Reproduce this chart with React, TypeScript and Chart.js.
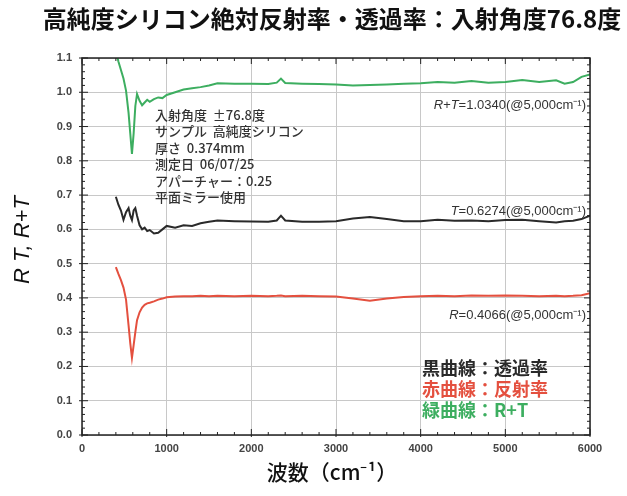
import React, { useEffect, useRef } from "react";
import { Chart, registerables } from "chart.js";

Chart.register(...registerables);

const wavenumbers = [400, 430, 460, 490, 520, 550, 570, 590, 610, 630, 650, 680, 710, 740, 770, 800, 850, 900, 950, 1000, 1100, 1200, 1300, 1400, 1500, 1600, 1800, 2000, 2200, 2300, 2350, 2400, 2600, 2800, 3000, 3200, 3400, 3600, 3800, 4000, 4200, 4400, 4600, 4800, 5000, 5200, 5400, 5600, 5700, 5800, 5900, 6000];

const transmittance = [0.695, 0.672, 0.655, 0.628, 0.650, 0.662, 0.640, 0.627, 0.655, 0.662, 0.640, 0.612, 0.600, 0.605, 0.595, 0.598, 0.588, 0.590, 0.600, 0.610, 0.605, 0.612, 0.610, 0.618, 0.622, 0.626, 0.624, 0.623, 0.622, 0.626, 0.640, 0.626, 0.622, 0.622, 0.624, 0.632, 0.636, 0.630, 0.624, 0.624, 0.628, 0.625, 0.626, 0.624, 0.627, 0.628, 0.624, 0.620, 0.624, 0.625, 0.630, 0.640];

const reflectance = [0.490, 0.470, 0.452, 0.430, 0.395, 0.320, 0.268, 0.225, 0.262, 0.300, 0.335, 0.358, 0.372, 0.380, 0.384, 0.386, 0.390, 0.395, 0.398, 0.402, 0.404, 0.405, 0.405, 0.406, 0.405, 0.406, 0.405, 0.406, 0.405, 0.406, 0.407, 0.405, 0.406, 0.405, 0.404, 0.398, 0.392, 0.398, 0.403, 0.405, 0.406, 0.405, 0.407, 0.406, 0.407, 0.406, 0.405, 0.406, 0.405, 0.406, 0.408, 0.414];

const sumRT = [1.12, 1.09, 1.065, 1.04, 1.005, 0.94, 0.88, 0.82, 0.88, 0.96, 0.995, 0.975, 0.962, 0.970, 0.978, 0.972, 0.980, 0.985, 0.983, 0.992, 1.000, 1.008, 1.012, 1.015, 1.020, 1.026, 1.025, 1.025, 1.024, 1.028, 1.040, 1.027, 1.025, 1.024, 1.023, 1.020, 1.021, 1.023, 1.025, 1.026, 1.030, 1.028, 1.033, 1.028, 1.030, 1.036, 1.030, 1.035, 1.025, 1.030, 1.045, 1.052];

const xTicks = [0, 1000, 2000, 3000, 4000, 5000, 6000];
const yTicks = [0, 0.1, 0.2, 0.3, 0.4, 0.5, 0.6, 0.7, 0.8, 0.9, 1.0, 1.1];

const titleText = "高純度シリコン絶対反射率・透過率：入射角度76.8度";
const infoLines = ["入射角度  ±76.8度", "サンプル  高純度シリコン", "厚さ  0.374mm", "測定日  06/07/25", "アパーチャー：0.25", "平面ミラー使用"];
const legendLines = [
  { text: "黒曲線：透過率", color: "#2a2a2a" },
  { text: "赤曲線：反射率", color: "#e4503f" },
  { text: "緑曲線：R+T", color: "#3dae60" },
];
const curveLabels = [
  { name: "R+T", rest: "=1.0340(@5,000cm⁻¹)", y: 0.962 },
  { name: "T", rest: "=0.6274(@5,000cm⁻¹)", y: 0.653 },
  { name: "R", rest: "=0.4066(@5,000cm⁻¹)", y: 0.35 },
];

const JP = '"Noto Sans CJK JP", sans-serif';
const LAT = '"Liberation Sans", Arial, sans-serif';

const decor = {
  id: "decor",
  beforeDraw(chart: any) {
    const ctx = chart.ctx;
    ctx.save();
    ctx.fillStyle = "#ffffff";
    ctx.fillRect(0, 0, chart.width, chart.height);
    ctx.restore();
  },
  afterDraw(chart: any) {
    const ctx = chart.ctx;
    const { left, right, top, bottom } = chart.chartArea;
    const xs = chart.scales.x;
    const ys = chart.scales.y;
    ctx.save();
    // frame
    ctx.strokeStyle = "#222";
    ctx.lineWidth = 1.5;
    ctx.strokeRect(left, top, right - left, bottom - top);
    // ticks
    ctx.lineWidth = 1;
    for (let v = 0; v <= 6000; v += 200) {
      const px = xs.getPixelForValue(v);
      const len = v % 1000 === 0 ? 6 : 3;
      ctx.beginPath();
      ctx.moveTo(px, bottom + (len === 6 ? 2 : 0));
      ctx.lineTo(px, bottom - len);
      ctx.moveTo(px, top);
      ctx.lineTo(px, top + len);
      ctx.stroke();
    }
    for (let i = 0; i <= 55; i++) {
      const v = i * 0.02;
      const py = ys.getPixelForValue(v);
      const major = i % 5 === 0;
      const len = major ? 6 : 3;
      ctx.beginPath();
      ctx.moveTo(left - (major ? 3 : 0), py);
      ctx.lineTo(left + len, py);
      ctx.moveTo(right, py);
      ctx.lineTo(right - len, py);
      ctx.stroke();
    }
    // title
    ctx.fillStyle = "#111";
    ctx.textBaseline = "middle";
    ctx.textAlign = "center";
    ctx.font = `bold 24px ${JP}`;
    ctx.fillText(titleText, 332, 19);
    // x title
    ctx.font = `500 21px ${JP}`;
    ctx.fillText("波数（cm⁻¹）", 332, 472);
    // y title
    ctx.save();
    ctx.translate(23, 240);
    ctx.rotate(-Math.PI / 2);
    ctx.font = `italic 22px ${LAT}`;
    ctx.fillText("R T, R+T", 0, 0);
    ctx.restore();
    // info block
    ctx.textAlign = "left";
    ctx.font = `500 13px ${JP}`;
    ctx.fillStyle = "#333";
    infoLines.forEach((t, i) => ctx.fillText(t, 155, 115 + i * 16.5));
    // curve labels
    curveLabels.forEach((c) => {
      const py = ys.getPixelForValue(c.y);
      ctx.font = `13px ${LAT}`;
      const wRest = ctx.measureText(c.rest).width;
      ctx.font = `italic 13px ${LAT}`;
      const wName = ctx.measureText(c.name).width;
      const x0 = 586 - wRest - wName;
      ctx.fillStyle = "#333";
      ctx.fillText(c.name, x0, py);
      ctx.font = `13px ${LAT}`;
      ctx.fillText(c.rest, x0 + wName, py);
    });
    // legend
    ctx.font = `bold 18px ${JP}`;
    legendLines.forEach((l, i) => {
      ctx.fillStyle = l.color;
      ctx.fillText(l.text, 422, 368 + i * 21);
    });
    ctx.restore();
  },
};

export default function App() {
  const ref = useRef<HTMLCanvasElement | null>(null);
  useEffect(() => {
    document.body.style.margin = "0";
    const mk = (vals: number[]) => wavenumbers.map((x, i) => ({ x, y: vals[i] }));
    const chart = new Chart(ref.current as HTMLCanvasElement, {
      type: "line",
      data: {
        datasets: [
          { label: "R+T", data: mk(sumRT), borderColor: "#3dae60", borderWidth: 2, pointRadius: 0, tension: 0 },
          { label: "T", data: mk(transmittance), borderColor: "#2a2a2a", borderWidth: 2, pointRadius: 0, tension: 0 },
          { label: "R", data: mk(reflectance), borderColor: "#e4503f", borderWidth: 2, pointRadius: 0, tension: 0 },
        ],
      },
      options: {
        animation: false,
        responsive: false,
        events: [],
        layout: { padding: { left: 0, top: 58, right: 37, bottom: 0 } },
        plugins: { legend: { display: false }, tooltip: { enabled: false }, title: { display: false } },
        scales: {
          x: {
            type: "linear",
            min: 0,
            max: 6000,
            afterFit: (s: any) => { s.height = 61; },
            afterBuildTicks: (s: any) => { s.ticks = xTicks.map((v) => ({ value: v })); },
            grid: { color: "#c8c8c8", lineWidth: 1, drawTicks: false },
            border: { display: false },
            ticks: { padding: 7, color: "#444", font: { family: LAT, size: 11, weight: "bold" }, callback: (v: any) => String(v) },
          },
          y: {
            type: "linear",
            min: 0,
            max: 1.1,
            afterFit: (s: any) => { s.width = 82; },
            afterBuildTicks: (s: any) => { s.ticks = yTicks.map((v) => ({ value: v })); },
            grid: { color: "#c8c8c8", lineWidth: 1, drawTicks: false },
            border: { display: false },
            ticks: { padding: 10, color: "#444", font: { family: LAT, size: 11, weight: "bold" }, callback: (v: any) => Number(v).toFixed(1) },
          },
        },
      },
      plugins: [decor],
    } as any);
    return () => chart.destroy();
  }, []);
  return (
    <div style={{ position: "absolute", left: 0, top: 0, width: 627, height: 496 }}>
      <canvas ref={ref} width={627} height={496} style={{ width: 627, height: 496, display: "block" }} />
    </div>
  );
}
